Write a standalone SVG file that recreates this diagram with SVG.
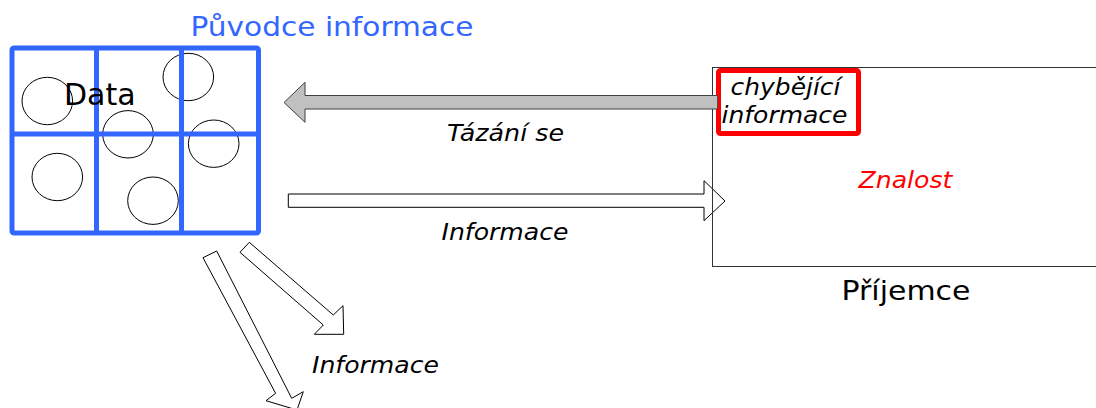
<svg xmlns="http://www.w3.org/2000/svg" width="1096" height="408" viewBox="0 0 1096 408">
<style>
.sans{font-family:"DejaVu Sans","Verdana",sans-serif}
.it{font-family:"DejaVu Sans","Verdana",sans-serif;font-style:italic;font-size:22.5px;fill:#000}
.grid{stroke:#3366ff;stroke-width:5;fill:none}
.dot{fill:none;stroke:#000;stroke-width:1}
.warr{fill:#fff;stroke:#000;stroke-width:1;stroke-linejoin:miter}
</style>
<rect width="1096" height="408" fill="#fff"/>
<g id="connectors">
<polygon class="warr" points="288.3,194 704,194 704,180.7 725,201 704,220.7 704,207.3 288.3,207.3"/>
<polygon class="warr" points="240,252.3 249.3,242.3 333.3,315 343,305.7 343.7,334.3 314.3,334.3 323.3,325"/>
<polygon class="warr" points="203,257.7 216.7,251 291.7,398.3 303.3,391.7 297,410 266,400.7 275.6,393.3"/>
</g>
<g id="prijemce">
<rect x="712.5" y="67.5" width="400" height="199" fill="none" stroke="#333" stroke-width="1"/>
<text class="sans" x="841.5" y="300" font-size="26.5" fill="#000" textLength="129" lengthAdjust="spacingAndGlyphs">Příjemce</text>
</g>
<g id="chybejici">
<rect x="718.5" y="70.5" width="140" height="63" rx="2" fill="#fff" stroke="#ff0000" stroke-width="5"/>
<text class="it" x="730.5" y="94.5" textLength="110" lengthAdjust="spacingAndGlyphs">chybějící</text>
<text class="it" x="721.5" y="122.5" textLength="126" lengthAdjust="spacingAndGlyphs">informace</text>
</g>
<g id="tazani">
<polygon points="717.7,95.5 305,95.5 305,82.3 284,102.5 305,122.3 305,109 717.7,109" fill="#c0c0c0" stroke="#404040" stroke-width="1"/>
</g>
<g id="znalost">
<text class="it" x="858.5" y="188.3" textLength="94" lengthAdjust="spacingAndGlyphs" style="fill:#ff0000">Znalost</text>
</g>
<g id="puvodce">
<text class="sans" x="190.5" y="36" font-size="27" fill="#3366ff" textLength="283" lengthAdjust="spacingAndGlyphs">Původce informace</text>
<ellipse class="dot" cx="47.3" cy="101" rx="25.3" ry="23.7"/>
<ellipse class="dot" cx="188.3" cy="77" rx="25.3" ry="23.7"/>
<ellipse class="dot" cx="128" cy="134.3" rx="25.3" ry="23.7"/>
<ellipse class="dot" cx="213.7" cy="143.7" rx="25.3" ry="23.7"/>
<ellipse class="dot" cx="57.3" cy="177" rx="25.3" ry="23.7"/>
<ellipse class="dot" cx="153" cy="200.7" rx="25.3" ry="23.7"/>
<rect class="grid" x="12" y="48" width="246.5" height="185" rx="2"/>
<line class="grid" x1="96.5" y1="48" x2="96.5" y2="233"/>
<line class="grid" x1="181.5" y1="48" x2="181.5" y2="233"/>
<line class="grid" x1="12" y1="134" x2="258.5" y2="134"/>
<text class="sans" x="64" y="104.5" font-size="30" fill="#000">Data</text>
</g>
<g id="labels">
<text class="it" x="447" y="141" textLength="117" lengthAdjust="spacingAndGlyphs">Tázání se</text>
<text class="it" x="441.5" y="240" textLength="127" lengthAdjust="spacingAndGlyphs">Informace</text>
<text class="it" x="312" y="373.3" textLength="127" lengthAdjust="spacingAndGlyphs">Informace</text>
</g>
</svg>
